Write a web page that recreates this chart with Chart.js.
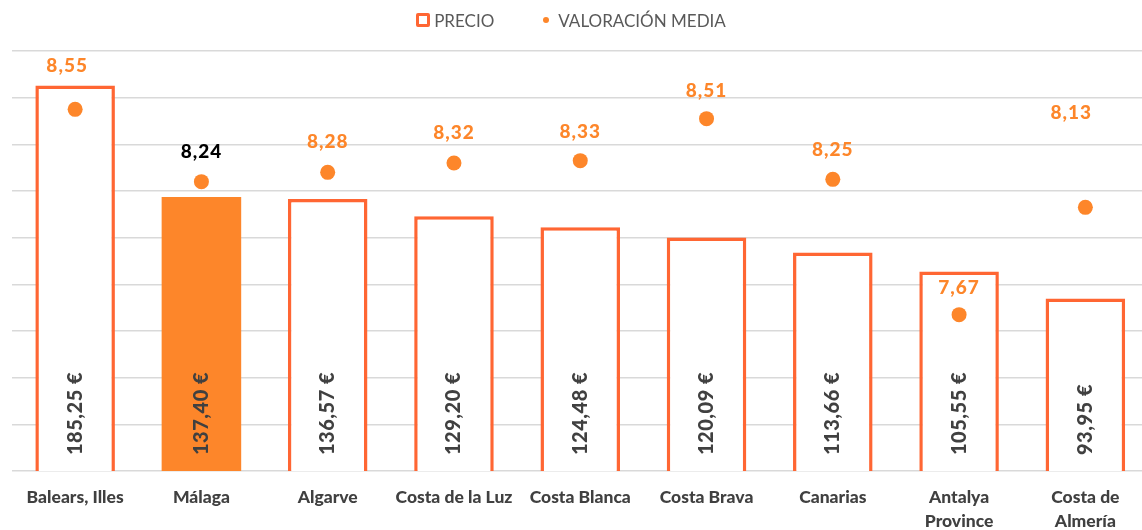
<!DOCTYPE html>
<html lang="es">
<head>
<meta charset="utf-8">
<title>Precio y valoración media</title>
<script src="https://cdn.jsdelivr.net/npm/chart.js@4.4.1/dist/chart.umd.min.js"></script>
<style>
  body { margin: 0; background: #fff; overflow: hidden; width: 1142px; height: 530px; position: relative; }
  #legend { position: absolute; top: 8px; left: 0; width: 1142px; height: 24px; display: flex; justify-content: center; align-items: center; gap: 49px; font: 17px Lato, sans-serif; color: #595959; z-index: 2; }
  .item { display: flex; align-items: center; }
  .box { width: 8px; height: 8px; border: 3px solid #FF6633; border-radius: 2px; margin-right: 4px; }
  .dot { width: 6px; height: 6px; border-radius: 50%; background: #FD862A; margin-right: 9px; }
  #wrap { position: absolute; top: 0; left: 0; }
</style>
</head>
<body>
<div id="legend"></div>
<div id="wrap"><canvas id="chart" width="1156" height="530"></canvas></div>
<script>
const categories = ["Balears, Illes", "Málaga", "Algarve", "Costa de la Luz", "Costa Blanca", "Costa Brava", "Canarias", ["Antalya", "Province"], ["Costa de", "Almería"]];
const precio = [185.25, 137.40, 136.57, 129.20, 124.48, 120.09, 113.66, 105.55, 93.95];
const valoracion = [8.55, 8.24, 8.28, 8.32, 8.33, 8.51, 8.25, 7.67, 8.13];
const precioRange = [20, 200];
const valoracionRange = [7, 8.8];

// label nudges, same as the hand-placed labels in the original
const labelLift = [43, 30, 30, 30, 29, 28, 29, 27, 94];
const labelShift = [-8, 0, 0, 0, 0, 0, 0, 0, -14];

const highlight = 1; // Málaga
const red = "#FF6633";
const orange = "#FD862A";

const fmt = (v) => v.toFixed(2).replace(".", ",");

// draws price inside the bars and rating above the dots
const valueLabels = {
  id: "valueLabels",
  afterDatasetsDraw(chart) {
    const ctx = chart.ctx;
    const bars = chart.getDatasetMeta(0).data;
    const dots = chart.getDatasetMeta(1).data;
    ctx.save();
    ctx.font = "900 20px Lato";
    ctx.letterSpacing = "0.5px";
    ctx.fillStyle = "#404040";
    ctx.textAlign = "left";
    ctx.textBaseline = "middle";
    bars.forEach((bar, i) => {
      ctx.save();
      ctx.translate(bar.x, chart.chartArea.bottom - 16);
      ctx.rotate(-Math.PI / 2);
      ctx.fillText(fmt(precio[i]) + " €", 0, 0);
      ctx.restore();
    });
    ctx.font = "900 19px Lato";
    ctx.letterSpacing = "1px";
    ctx.textAlign = "center";
    dots.forEach((pt, i) => {
      ctx.fillStyle = i === highlight ? "#000000" : orange;
      ctx.fillText(fmt(valoracion[i]), pt.x + labelShift[i], pt.y - labelLift[i]);
    });
    ctx.restore();
  },
};

const ctx = document.getElementById("chart").getContext("2d");
const chart = new Chart(ctx, {
  type: "bar",
  data: {
    labels: categories,
    datasets: [
      {
        label: "PRECIO",
        data: precio,
        yAxisID: "y",
        order: 1,
        backgroundColor: (c) => (c.dataIndex === highlight ? orange : "#FFFFFF"),
        borderColor: red,
        borderWidth: (c) => (c.dataIndex === highlight ? 0 : 3.5),
        borderSkipped: false,
        barPercentage: 0.63,
        categoryPercentage: 1,
      },
      {
        type: "line",
        label: "VALORACIÓN MEDIA",
        data: valoracion,
        yAxisID: "y1",
        order: 0,
        showLine: false,
        pointRadius: 7.5,
        pointHoverRadius: 7.5,
        pointBackgroundColor: orange,
        pointBorderWidth: 0,
      },
    ],
  },
  options: {
    responsive: false,
    animation: false,
    layout: { padding: { top: 51, left: 12, right: 0, bottom: 0 } },
    plugins: {
      legend: { display: false },
      tooltip: { enabled: false },
    },
    scales: {
      x: {
        grid: { display: false, drawTicks: false },
        border: { display: false },
        ticks: {
          autoSkip: false,
          maxRotation: 0,
          padding: 14,
          color: "#404040",
          font: { family: "Lato", size: 17.5, weight: "900", lineHeight: "24px" },
        },
        afterFit(scale) {
          scale.height = 59;
        },
      },
      y: {
        min: precioRange[0],
        max: precioRange[1],
        ticks: { display: false, stepSize: 20 },
        grid: { color: "#D9D9D9", lineWidth: 1.5, drawTicks: false },
        border: { display: false },
      },
      y1: {
        position: "right",
        display: false,
        min: valoracionRange[0],
        max: valoracionRange[1],
      },
    },
  },
  plugins: [valueLabels],
});

// html legend built from the datasets
const legend = document.getElementById("legend");
chart.data.datasets.forEach((ds, i) => {
  const item = document.createElement("div");
  item.className = "item";
  item.innerHTML = `<span class="${i === 0 ? "box" : "dot"}"></span><span>${ds.label}</span>`;
  legend.appendChild(item);
});
</script>
</body>
</html>
